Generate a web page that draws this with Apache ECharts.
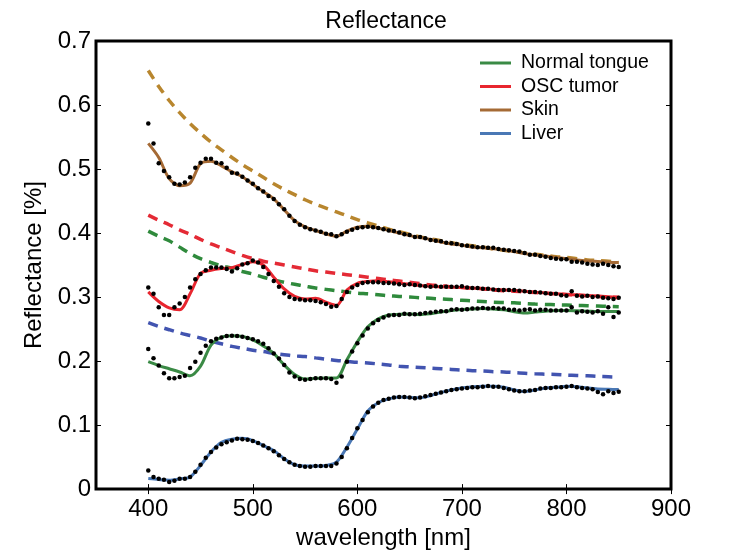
<!DOCTYPE html>
<html>
<head>
<meta charset="utf-8">
<script src="https://cdn.jsdelivr.net/npm/echarts@6/dist/echarts.min.js"></script>
<style>
html,body{margin:0;padding:0;background:#fff;}
#chart{width:740px;height:555px;}
</style>
</head>
<body>
<div id="chart"></div>
<script>
// ---- data ----
const xTicks = [400, 500, 600, 700, 800, 900];
const yTicks = [0, 0.1, 0.2, 0.3, 0.4, 0.5, 0.6, 0.7];
const seriesNames = ['Normal tongue', 'OSC tumor', 'Skin', 'Liver'];

// measured points (every 5 nm)
const dotNm = [400,405,410,415,420,425,430,435,440,445,450,455,460,465,470,475,480,485,490,495,
  500,505,510,515,520,525,530,535,540,545,550,555,560,565,570,575,580,585,590,595,
  600,605,610,615,620,625,630,635,640,645,650,655,660,665,670,675,680,685,690,695,
  700,705,710,715,720,725,730,735,740,745,750,755,760,765,770,775,780,785,790,795,
  800,805,810,815,820,825,830,835,840,845,850];

const skinDots = [.571,.540,.509,.497,.487,.477,.476,.479,.487,.502,
  .510,.516,.516,.510,.509,.502,.494,.493,.488,.482,
  .477,.470,.465,.458,.453,.445,.437,.427,.419,.413,
  .409,.406,.404,.402,.399,.398,.395,.398,.402,.405,
  .408,.409,.410,.409,.408,.406,.404,.403,.401,.398,
  .397,.394,.394,.392,.389,.388,.387,.385,.384,.383,
  .381,.380,.379,.378,.378,.377,.377,.375,.374,.373,
  .372,.371,.369,.366,.366,.364,.363,.361,.360,.359,
  .359,.355,.355,.354,.352,.351,.350,.352,.350,.348,.347];

const tumorDots = [.315,.305,.284,.272,.272,.284,.290,.300,.315,.328,
  .336,.342,.346,.346,.346,.344,.340,.345,.351,.353,
  .357,.354,.347,.336,.325,.316,.306,.300,.297,.296,
  .295,.295,.294,.292,.289,.285,.286,.297,.308,.315,
  .319,.322,.323,.323,.323,.322,.322,.321,.320,.319,
  .320,.319,.318,.317,.316,.317,.316,.316,.316,.316,
  .317,.315,.314,.314,.313,.313,.312,.311,.311,.311,
  .311,.310,.309,.308,.308,.307,.306,.305,.305,.303,
  .302,.309,.302,.301,.302,.300,.301,.299,.298,.297,.299];

const tongueDots = [.219,.2045,.193,.181,.173,.173,.175,.177,.189,.199,
  .213,.224,.231,.235,.237,.239,.2395,.239,.238,.236,
  .234,.231,.227,.220,.212,.204,.194,.182,.176,.172,
  .171,.172,.173,.173,.173,.172,.166,.176,.199,.215,
  .228,.240,.251,.259,.264,.268,.271,.272,.272,.274,
  .273,.273,.274,.275,.276,.277,.278,.278,.280,.281,
  .280,.281,.282,.282,.283,.282,.283,.282,.282,.280,
  .280,.279,.280,.281,.279,.280,.280,.279,.279,.279,
  .279,.284,.276,.278,.277,.276,.278,.274,.284,.269,.276];

const liverDots = [.029,.019,.016,.0145,.011,.013,.016,.016,.019,.027,
  .038,.049,.058,.065,.070,.073,.076,.0785,.078,.077,
  .075,.072,.068,.064,.059,.053,.047,.042,.038,.036,
  .035,.035,.036,.036,.036,.036,.040,.050,.064,.080,
  .095,.108,.120,.129,.135,.139,.141,.143,.144,.144,
  .143,.142,.143,.145,.147,.149,.151,.153,.155,.156,
  .157,.158,.159,.159,.160,.161,.160,.160,.158,.156,
  .154,.153,.153,.154,.155,.157,.158,.158,.159,.159,
  .160,.161,.159,.158,.157,.156,.1515,.148,.153,.150,.152];

// fitted curves (every 10 nm)
const lineNm = [400,410,420,430,440,450,460,470,480,490,500,510,520,530,540,550,560,570,580,590,
  600,610,620,630,640,650,660,670,680,690,700,710,720,730,740,750,760,770,780,790,
  800,810,820,830,840,850];

const skinLine = [.540,.518,.485,.474,.478,.5085,.512,.505,.4956,.488,
  .476,.4647,.4534,.4364,.4194,.4096,.404,.3988,.395,.403,
  .409,.4106,.408,.404,.400,.396,.393,.390,.386,.383,
  .381,.378,.377,.3755,.374,.371,.368,.366,.364,.362,
  .360,.358,.3565,.3555,.3545,.354];

const tumorLine = [.308,.293,.283,.280,.305,.337,.342,.3446,.346,.351,
  .355,.350,.331,.3127,.301,.297,.298,.292,.287,.311,
  .3215,.3245,.3255,.324,.322,.320,.318,.317,.316,.3155,
  .315,.314,.313,.312,.311,.310,.309,.3075,.3065,.305,
  .304,.3035,.3025,.3015,.3005,.300];

const tongueLine = [.199,.193,.188,.183,.177,.192,.225,.237,.2395,.2386,
  .233,.2236,.212,.194,.179,.172,.173,.1735,.1736,.202,
  .230,.2535,.266,.272,.273,.2735,.2725,.274,.2765,.279,
  .2805,.2815,.282,.2815,.280,.277,.275,.2765,.278,.279,
  .279,.2785,.278,.2775,.2775,.2775];

const liverLine = [.0165,.015,.014,.016,.019,.037,.058,.0731,.078,.0793,
  .0757,.068,.0603,.0474,.038,.036,.036,.037,.042,.0654,
  .0938,.122,.135,.141,.1437,.143,.1427,.146,.151,.155,
  .158,.1595,.1605,.1605,.159,.155,.1525,.155,.158,.159,
  .1605,.160,.158,.1565,.156,.1555];

// model curves (dashed)
const skinDash = [.654,.629,.607,.588,.571,.556,.542,.530,.518,.507,
  .497,.487,.477,.468,.460,.452,.445,.439,.433,.427,
  .421,.416,.411,.406,.402,.398,.394,.391,.388,.385,
  .382,.380,.378,.375,.373,.371,.369,.367,.365,.363,
  .362,.360,.358,.357,.356,.354];

const tumorDash = [.428,.420,.413,.405,.398,.390,.383,.377,.371,.365,
  .360,.356,.353,.350,.347,.344,.341,.339,.337,.335,
  .333,.331,.329,.327,.325,.323,.321,.319,.318,.316,
  .315,.314,.313,.311,.310,.309,.308,.307,.306,.305,
  .304,.303,.302,.301,.300,.299];

const tongueDash = [.403,.395,.388,.378,.368,.360,.354,.349,.345,.340,
  .336,.331,.327,.323,.320,.317,.314,.312,.310,.308,
  .306,.305,.3035,.302,.301,.300,.299,.298,.297,.296,
  .295,.294,.293,.292,.2915,.291,.290,.289,.2885,.288,
  .2875,.287,.2865,.286,.2855,.285];

const liverDash = [.260,.254,.249,.244,.240,.236,.231,.227,.223,.220,
  .217,.215,.212,.210,.208,.207,.205,.203,.201,.1995,
  .198,.197,.1955,.194,.192,.191,.190,.189,.188,.187,
  .186,.185,.1845,.1835,.183,.182,.181,.180,.1795,.179,
  .178,.1775,.177,.176,.1755,.175];

// ---- chart ----
const FONT = '"Liberation Sans", Arial, Helvetica, sans-serif';
const solidColors = ['#3a8a45', '#e8262f', '#a56a35', '#4a78b5'];
const dashColors  = ['#2f8a3c', '#e42a35', '#b8862e', '#4254b0'];
const lines  = [tongueLine, tumorLine, skinLine, liverLine];
const dashes = [tongueDash, tumorDash, skinDash, liverDash];
const dots   = [tongueDots, tumorDots, skinDots, liverDots];

const pair = (xs, ys) => xs.map((x, i) => [x, ys[i]]);

const series = [];
seriesNames.forEach((n, k) => {
  series.push({
    name: n + ' model', type: 'line', data: pair(lineNm, dashes[k]),
    showSymbol: false, smooth: 0.3, z: 2, silent: true,
    lineStyle: { color: dashColors[k], width: 3.5, type: [10, 7] },
    itemStyle: { color: dashColors[k] }
  });
});
seriesNames.forEach((n, k) => {
  series.push({
    name: n, type: 'line', data: pair(lineNm, lines[k]),
    showSymbol: false, smooth: 0.3, z: 3, silent: true,
    lineStyle: { color: solidColors[k], width: 3 },
    itemStyle: { color: solidColors[k] }
  });
});
seriesNames.forEach((n, k) => {
  series.push({
    name: n + ' data', type: 'scatter', data: pair(dotNm, dots[k]),
    symbolSize: 4.5, z: 4, silent: true,
    itemStyle: { color: '#000', opacity: 1 }
  });
});

const chart = echarts.init(document.getElementById('chart'), null, { renderer: 'canvas' });
chart.setOption({
  animation: false,
  backgroundColor: '#fff',
  textStyle: { fontFamily: FONT },
  title: {
    text: 'Reflectance', left: 381, top: 5, textAlign: 'center',
    textStyle: { fontFamily: FONT, fontSize: 23, fontWeight: 'normal', color: '#000' }
  },
  legend: {
    data: seriesNames, orient: 'vertical', left: 475, top: 48,
    icon: 'rect', itemWidth: 31, itemHeight: 3, itemGap: 3.5,
    textStyle: { fontFamily: FONT, fontSize: 19.5, lineHeight: 20, color: '#000', padding: [0, 0, 0, 5] }
  },
  grid: {
    left: 96, right: 69, top: 41, bottom: 61,
    show: true, borderColor: '#000', borderWidth: 3, backgroundColor: 'transparent'
  },
  xAxis: [{
    type: 'value', min: 350, max: 900,
    name: 'wavelength [nm]', nameLocation: 'middle', nameGap: 33,
    nameTextStyle: { fontFamily: FONT, fontSize: 24, color: '#000' },
    axisLine: { show: false }, splitLine: { show: false },
    axisTick: { inside: true, length: 5, customValues: xTicks, lineStyle: { color: '#000', width: 1 } },
    axisLabel: { customValues: xTicks, fontFamily: FONT, fontSize: 24, color: '#000', margin: 8 }
  }, {
    type: 'value', min: 350, max: 900, position: 'top',
    axisLine: { show: false }, splitLine: { show: false },
    axisTick: { inside: true, length: 5, customValues: xTicks, lineStyle: { color: '#000', width: 1 } },
    axisLabel: { show: false }
  }],
  yAxis: [{
    type: 'value', min: 0, max: 0.7, interval: 0.1,
    name: 'Reflectance [%]', nameLocation: 'middle', nameGap: 44,
    nameTextStyle: { fontFamily: FONT, fontSize: 24, color: '#000' },
    axisLine: { show: false }, splitLine: { show: false },
    axisTick: { inside: true, length: 5, customValues: yTicks, lineStyle: { color: '#000', width: 1 } },
    axisLabel: { customValues: yTicks, fontFamily: FONT, fontSize: 24, color: '#000', margin: 5,
      formatter: v => String(Math.round(v * 10) / 10) }
  }, {
    type: 'value', min: 0, max: 0.7, interval: 0.1, position: 'right',
    axisLine: { show: false }, splitLine: { show: false },
    axisTick: { inside: true, length: 5, customValues: yTicks, lineStyle: { color: '#000', width: 1 } },
    axisLabel: { show: false }
  }],
  series: series
});
</script>
</body>
</html>
